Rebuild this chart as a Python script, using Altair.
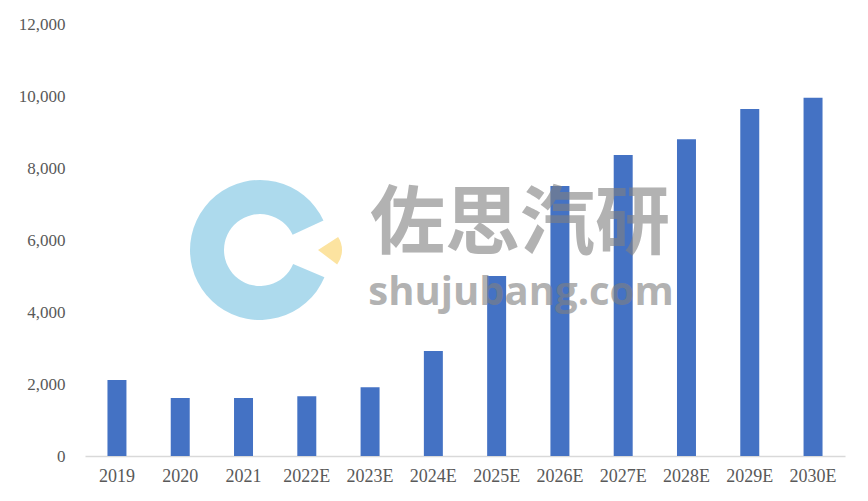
import altair as alt
import pandas as pd
import math

years = ["2019", "2020", "2021", "2022E", "2023E", "2024E",
         "2025E", "2026E", "2027E", "2028E", "2029E", "2030E"]
values = [2110, 1610, 1610, 1660, 1910, 2920, 5000, 7500, 8360, 8800, 9640, 9950]
y_ticks = [0, 2000, 4000, 6000, 8000, 10000, 12000]

df = pd.DataFrame({"year": years, "value": values})
one = pd.DataFrame({"k": [0]})

label_font = "Liberation Serif"
label_color = "#595959"

bars = alt.Chart(df).mark_bar(color="#4472C4").encode(
    x=alt.X("year:N", sort=years, title=None,
            scale=alt.Scale(paddingInner=0.7, paddingOuter=0.355),
            axis=alt.Axis(labelAngle=0, ticks=False, tickSize=0, labelPadding=11,
                          domainColor="#D9D9D9", domainWidth=1.3,
                          labelFont=label_font, labelFontSize=18,
                          labelColor=label_color, grid=False)),
    y=alt.Y("value:Q", title=None,
            scale=alt.Scale(domain=[0, 12000], nice=False),
            axis=alt.Axis(values=y_ticks, format=",d", ticks=False, tickSize=0,
                          labelPadding=20, domain=False, grid=False,
                          labelFont=label_font, labelFontSize=17,
                          labelColor=label_color)),
)

ring = alt.Chart(one).mark_arc(color="#A9D8EC", opacity=0.95).encode(
    x=alt.value(175), y=alt.value(226),
    theta=alt.value(math.radians(113)), theta2=alt.value(math.radians(425)),
    radius=alt.value(70), radius2=alt.value(36),
)

wedge = alt.Chart(one).mark_arc(color="#FCE3A0").encode(
    x=alt.value(233), y=alt.value(226),
    theta=alt.value(math.radians(57)), theta2=alt.value(math.radians(127)),
    radius=alt.value(24), radius2=alt.value(0),
)

wm_cn = alt.Chart(one).mark_text(
    text="佐思汽研", font="Noto Sans CJK SC", fontWeight="bold", fontSize=75,
    color="#808080", opacity=0.6, align="center", baseline="middle",
).encode(x=alt.value(435), y=alt.value(201))

wm_en = alt.Chart(one).mark_text(
    text="shujubang.com", font="Open Sans", fontWeight="bold", fontSize=40,
    color="#808080", opacity=0.6, align="center", baseline="alphabetic",
).encode(x=alt.value(436), y=alt.value(281))

chart = alt.layer(bars, ring, wedge, wm_cn, wm_en).properties(
    width=760, height=432,
    autosize=alt.AutoSizeParams(type="none"),
    padding={"left": 77, "top": 16, "right": 15, "bottom": 37},
    background="white",
).configure_view(strokeOpacity=0, strokeWidth=0)

chart.save("out.html", embed_options={"renderer": "svg", "actions": False})
